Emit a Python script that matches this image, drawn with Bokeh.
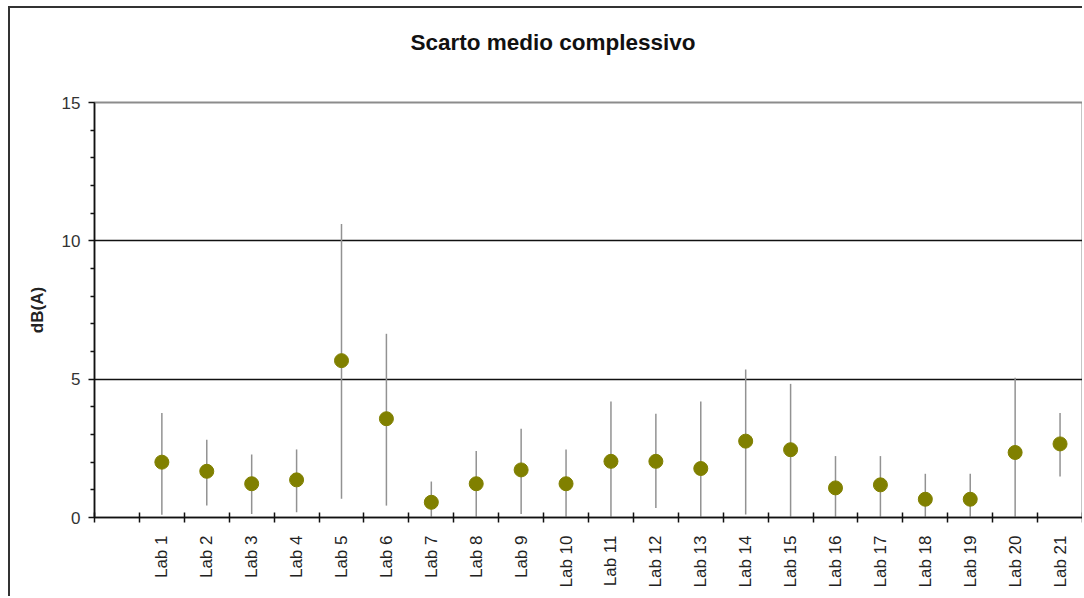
from bokeh.plotting import figure
from bokeh.models import Range1d, FixedTicker, ColumnDataSource, Title
from bokeh.embed import file_html
from bokeh.resources import INLINE
import math

labs = ["Lab %d" % i for i in range(1, 22)]
mean = [2.0, 1.67, 1.22, 1.36, 5.67, 3.57, 0.55, 1.22, 1.72, 1.22, 2.03,
        2.03, 1.77, 2.76, 2.45, 1.07, 1.18, 0.66, 0.66, 2.35, 2.66]
high = [3.78, 2.81, 2.28, 2.46, 10.61, 6.64, 1.30, 2.40, 3.21, 2.46, 4.19,
        3.75, 4.19, 5.35, 4.83, 2.22, 2.22, 1.58, 1.58, 5.05, 3.78]
low = [0.10, 0.43, 0.13, 0.19, 0.68, 0.43, 0.0, 0.0, 0.13, 0.0, 0.0,
       0.34, 0.0, 0.11, 0.0, 0.0, 0.0, 0.0, 0.0, 0.0, 1.48]
y_ticks = [0, 5, 10, 15]
y_minor = [1, 2, 3, 4, 6, 7, 8, 9, 11, 12, 13, 14]

n_slots = len(labs) + 1  # first slot is empty
xs = [i + 1.5 for i in range(len(labs))]
src = ColumnDataSource(dict(x=xs, mean=mean, low=low, high=high, lab=labs))

FONT = "Liberation Sans"

p = figure(width=1074, height=590, output_backend="svg", toolbar_location=None,
           x_range=Range1d(0, n_slots), y_range=Range1d(0, 15),
           min_border_left=84, min_border_right=2, min_border_top=94,
           min_border_bottom=81)
p.styles = {"border-left": "2px solid #333333", "border-top": "2px solid #333333",
            "margin-left": "8px", "margin-top": "6px"}
p.background_fill_color = "white"
p.border_fill_color = "white"
p.outline_line_color = "#8c8c8c"
p.outline_line_width = 2

# main title (outer panel)
p.title.text = "Scarto medio complessivo"
p.title.text_font = FONT
p.title.text_font_size = "22.5px"
p.title.text_font_style = "bold"
p.title.text_color = "#111111"
p.title.align = "left"
p.title.offset = 316
p.title.standoff = 0

# spacer between title and frame
spacer = Title(text=" ", text_font_size="1px", standoff=45)
p.add_layout(spacer, "above")

p.xgrid.visible = False
p.ygrid.ticker = FixedTicker(ticks=[5, 10])
p.ygrid.grid_line_color = "#111111"
p.ygrid.grid_line_width = 1.5

ya = p.yaxis[0]
ya.ticker = FixedTicker(ticks=y_ticks, minor_ticks=y_minor)
ya.axis_line_color = "#111111"
ya.axis_line_width = 1.5
ya.major_tick_in = 0
ya.major_tick_out = 6
ya.minor_tick_in = 0
ya.minor_tick_out = 4
ya.major_tick_line_color = "#111111"
ya.minor_tick_line_color = "#111111"
ya.major_tick_line_width = 1.5
ya.minor_tick_line_width = 1.5
ya.major_label_text_font = FONT
ya.major_label_text_font_size = "17px"
ya.major_label_text_color = "#333333"
ya.major_label_standoff = 8
ya.axis_label = "dB(A)"
ya.axis_label_text_font = FONT
ya.axis_label_text_font_size = "17px"
ya.axis_label_text_font_style = "bold"
ya.axis_label_text_color = "#222222"
ya.axis_label_standoff = 12

xa = p.xaxis[0]
xa.ticker = FixedTicker(ticks=xs, minor_ticks=list(range(0, n_slots + 1)))
xa.major_label_overrides = {x: l for x, l in zip(xs, labs)}
xa.major_label_orientation = math.pi / 2
xa.axis_line_color = "#111111"
xa.axis_line_width = 1.5
xa.major_tick_line_color = None
xa.major_tick_in = 0
xa.major_tick_out = 0
xa.minor_tick_line_color = "#111111"
xa.minor_tick_line_width = 1.5
xa.minor_tick_in = 5
xa.minor_tick_out = 5
xa.major_label_text_font = FONT
xa.major_label_text_font_size = "17px"
xa.major_label_text_color = "#222222"
xa.major_label_standoff = 13

p.segment(x0="x", y0="low", x1="x", y1="high", source=src,
          line_color="#929292", line_width=1.5)
p.scatter(x="x", y="mean", source=src, size=14,
          fill_color="#808000", line_color="#808000")

open("out.html", "w").write(file_html(p, INLINE))
